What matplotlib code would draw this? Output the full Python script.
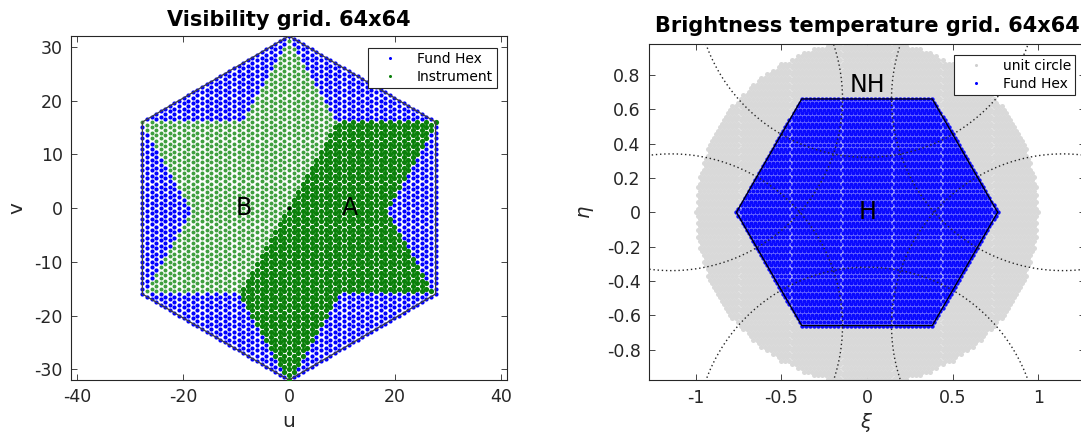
import numpy as np
import matplotlib
matplotlib.use('Agg')
import matplotlib.pyplot as plt
from matplotlib.lines import Line2D
from matplotlib.path import Path

plt.rcParams['font.family'] = ['DejaVu Sans']
plt.rcParams['axes.unicode_minus'] = False
plt.rcParams['mathtext.fontset'] = 'dejavusans'

# ---------------- data ----------------
grid_size = 64
hex_rings = grid_size // 2            # rings of the fundamental hexagon
antenna_spacing = 0.875               # d / lambda

uv_xticks = [-40, -20, 0, 20, 40]
uv_yticks = [-30, -20, -10, 0, 10, 20, 30]
xi_ticks = [-1, -0.5, 0, 0.5, 1]
xi_ticklabels = ['-1', '-0.5', '0', '0.5', '1']
eta_ticks = [-0.8, -0.6, -0.4, -0.2, 0, 0.2, 0.4, 0.6, 0.8]
eta_ticklabels = ['-0.8', '-0.6', '-0.4', '-0.2', '0', '0.2', '0.4', '0.6', '0.8']

# fundamental hexagon in (u, v)
uv_hex_u = [0, 27.71, 27.71, 0, -27.71, -27.71, 0]
uv_hex_v = [32, 16, -16, -32, -16, 16, 32]
# instrument star = union of two triangles
star_up_u = [0, 27.71, -27.71]
star_up_v = [32, -16, -16]
star_dn_u = [0, 27.71, -27.71]
star_dn_v = [-32, 16, 16]
split_slope = 1.732                   # A | B split line  v = slope * u
region_labels = ['B', 'A']
region_label_u = [-10, 10]
region_label_v = [0, 0]

# fundamental hexagon in (xi, eta)
xi_hex = [0.762, 0.381, -0.381, -0.762, -0.381, 0.381, 0.762]
eta_hex = [0, 0.66, 0.66, 0, -0.66, -0.66, 0]
# centres of aliased unit circles
alias_xi = [0, 0, 1.143, 1.143, -1.143, -1.143]
alias_eta = [1.32, -1.32, 0.66, -0.66, 0.66, -0.66]
bt_labels = ['NH', 'H']
bt_label_xi = [-0.1, -0.05]
bt_label_eta = [0.74, 0.0]

# ---------------- lattices ----------------
M, N = np.meshgrid(np.arange(-hex_rings, hex_rings + 1), np.arange(-hex_rings, hex_rings + 1))
M = M.ravel(); N = N.ravel()
inhex = (np.abs(N + M) <= hex_rings)
u = (np.sqrt(3) / 2) * M[inhex]
v = N[inhex] + M[inhex] / 2.0
uv = np.column_stack([u, v])

tri_up = Path(np.column_stack([star_up_u, star_up_v]))
tri_dn = Path(np.column_stack([star_dn_u, star_dn_v]))
in_star = tri_up.contains_points(uv, radius=0.3) | tri_dn.contains_points(uv, radius=0.3)
in_A = in_star & (v < split_slope * u + 0.01)
in_B = in_star & ~in_A

a = 2.0 / (3.0 * antenna_spacing) / hex_rings   # xi-eta lattice step
K = 60
P, Q = np.meshgrid(np.arange(-K, K + 1), np.arange(-K, K + 1))
P = P.ravel(); Q = Q.ravel()
xi = a * (P + Q / 2.0)
eta = a * (np.sqrt(3) / 2) * Q
in_circle = xi ** 2 + eta ** 2 <= 1.0
in_fh = (np.abs(Q) <= hex_rings) & (np.abs(P) <= hex_rings) & (np.abs(P + Q) <= hex_rings)

# ---------------- figure ----------------
fig = plt.figure(figsize=(10.81, 4.41), dpi=100)
dark = (0.15, 0.15, 0.15)

def style(ax):
    ax.tick_params(direction='in', length=4, width=0.6, top=True, right=True,
                   colors=dark, labelsize=12.5, pad=6)
    for s in ax.spines.values():
        s.set_color(dark)
        s.set_linewidth(0.8)

# left panel
ax1 = fig.add_axes([0.0657, 0.1383, 0.4033, 0.7800])
ax1.scatter(u[~in_star], v[~in_star], s=9, c='#0000ff', linewidths=0, zorder=2)
ax1.scatter(u[in_B], v[in_B], s=8, c='#3f9f3f', linewidths=0, zorder=3)
ax1.scatter(u[in_A], v[in_A], s=14, c='#0a800a', linewidths=0, zorder=4)
ax1.plot(uv_hex_u, uv_hex_v, color=(0.25, 0.25, 0.25), lw=0.9, zorder=5)
ax1.plot([0], [0], marker='o', ms=1.5, color='k', zorder=6)
for t, x0, y0 in zip(region_labels, region_label_u, region_label_v):
    ax1.text(x0, y0, t, fontsize=17, ha='left', va='center', color='k', zorder=7)
ax1.set_xlim(-41.2, 41.2)
ax1.set_ylim(-32, 32)
ax1.set_xticks(uv_xticks)
ax1.set_yticks(uv_yticks)
style(ax1)
ax1.set_xlabel('u', fontsize=14.5, color=dark, labelpad=4)
ax1.set_ylabel('v', fontsize=14.5, color=dark, labelpad=6)
ax1.set_title('Visibility grid. 64x64', fontsize=15, fontweight='bold', pad=7)
h1 = [Line2D([], [], ls='none', marker='o', ms=2.2, mec='none', mfc='#0000ff'),
      Line2D([], [], ls='none', marker='o', ms=2.2, mec='none', mfc='#0a800a')]
leg1 = fig.legend(h1, ['Fund Hex', 'Instrument'], loc='upper right',
                  bbox_to_anchor=(0.4598, 0.8912), fontsize=10, fancybox=False,
                  edgecolor=dark, framealpha=1, borderpad=0.3, labelspacing=0.3,
                  handlelength=2.6, handletextpad=0.6, borderaxespad=0)
leg1.get_frame().set_linewidth(0.8)

# right panel
ax2 = fig.add_axes([0.6004, 0.1372, 0.4033, 0.7630])
ax2.scatter(xi[in_circle & ~in_fh], eta[in_circle & ~in_fh], s=13, c='#d9d9d9',
            linewidths=0, zorder=2)
ax2.scatter(xi[in_fh], eta[in_fh], s=10, c='#0a0aff', linewidths=0, zorder=3)
tt = np.linspace(0, 2 * np.pi, 721)
for cx, cy in zip(alias_xi, alias_eta):
    ax2.plot(cx + np.cos(tt), cy + np.sin(tt), ls=(0, (1, 2.0)), lw=1.0,
             color=(0.15, 0.15, 0.15), zorder=4)
ax2.plot(xi_hex, eta_hex, color='k', lw=0.9, zorder=5)
for t, x0, y0 in zip(bt_labels, bt_label_xi, bt_label_eta):
    ax2.text(x0, y0, t, fontsize=17, ha='left', va='center', color='k', zorder=7)
ax2.set_xlim(-1.272, 1.272)
ax2.set_ylim(-0.98, 0.98)
ax2.set_xticks(xi_ticks)
ax2.set_xticklabels(xi_ticklabels)
ax2.set_yticks(eta_ticks)
ax2.set_yticklabels(eta_ticklabels)
style(ax2)
ax2.set_xlabel(r'$\xi$', fontsize=14, color=dark, labelpad=3)
ax2.set_ylabel(r'$\eta$', fontsize=14, color=dark, labelpad=8)
ax2.set_title('Brightness temperature grid. 64x64', fontsize=15, fontweight='bold', pad=9)
h2 = [Line2D([], [], ls='none', marker='o', ms=2.2, mec='none', mfc='#cfcfcf'),
      Line2D([], [], ls='none', marker='o', ms=2.2, mec='none', mfc='#0000ff')]
leg2 = fig.legend(h2, ['unit circle', 'Fund Hex'], loc='upper right',
                  bbox_to_anchor=(0.9945, 0.8753), fontsize=10, fancybox=False,
                  edgecolor=dark, framealpha=1, borderpad=0.3, labelspacing=0.3,
                  handlelength=2.6, handletextpad=0.6, borderaxespad=0)
leg2.get_frame().set_linewidth(0.8)

fig.savefig('out.png', dpi=100)
